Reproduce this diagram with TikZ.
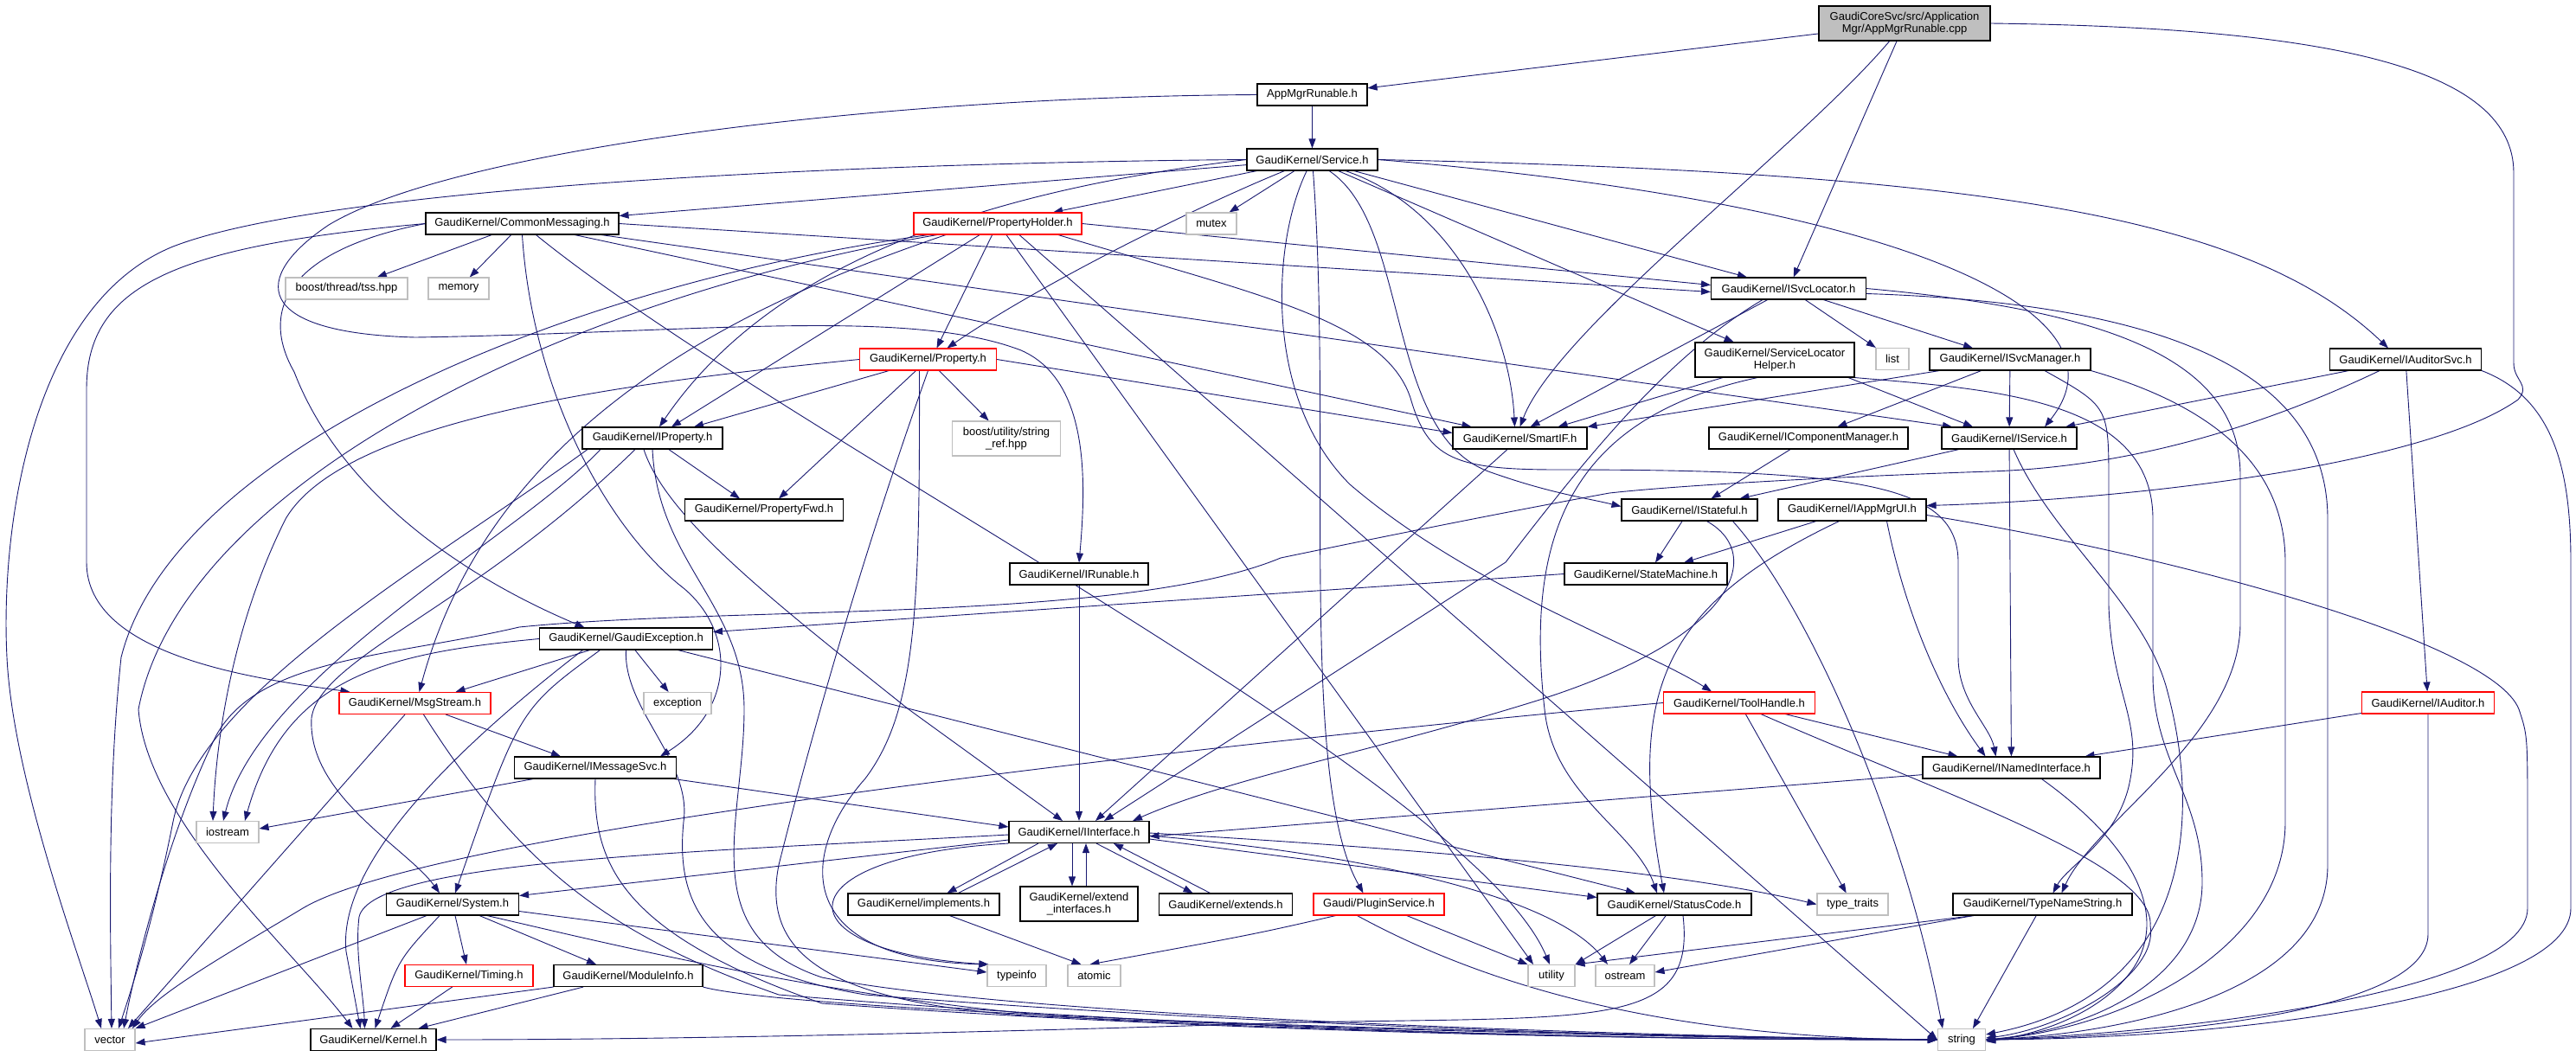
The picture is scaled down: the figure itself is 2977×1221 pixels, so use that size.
\documentclass[tikz,border=0pt]{standalone}
\usepackage{fontspec}
\setmainfont{Liberation Sans}
\usetikzlibrary{arrows.meta}
\definecolor{edgeblue}{HTML}{191970}
\definecolor{greyb}{HTML}{BFBFBF}
\pgfdeclarelayer{bg}
\pgfsetlayers{bg,main}
\tikzset{
 box/.style={draw=black,fill=white,line width=1.1pt,inner sep=0pt,minimum height=25pt,align=center,font=\fontsize{13}{14.5}\selectfont},
 gbox/.style={box,draw=greyb},
 rbox/.style={box,draw=red},
 edg/.style={draw=edgeblue,line width=0.9pt,-{Triangle[length=11pt,width=8pt]}},
}
\begin{document}
\begin{tikzpicture}[x=1pt,y=-1pt]
\useasboundingbox (0,0) rectangle (2977,1221);
% nodes
\node[box,fill=greyb,minimum width=198,minimum height=40] (top) at (2201,27) {GaudiCoreSvc/src/Application\\Mgr/AppMgrRunable.cpp};
\node[box,minimum width=127] (amr) at (1516.5,109.5) {AppMgrRunable.h};
\node[box,minimum width=151] (svc) at (1516.5,184.5) {GaudiKernel/Service.h};
\node[box,minimum width=223] (cm) at (603.5,258.5) {GaudiKernel/CommonMessaging.h};
\node[rbox,minimum width=194] (ph) at (1153,258.5) {GaudiKernel/PropertyHolder.h};
\node[gbox,minimum width=58] (mutex) at (1400,258.5) {mutex};
\node[gbox,minimum width=141] (tss) at (400.5,333.5) {boost/thread/tss.hpp};
\node[gbox,minimum width=70] (memory) at (530,333.5) {memory};
\node[box,minimum width=179] (isl) at (2067,333.5) {GaudiKernel/ISvcLocator.h};
\node[rbox,minimum width=158] (prop) at (1072.5,415.5) {GaudiKernel/Property.h};
\node[box,minimum width=184,minimum height=40] (slh) at (2051,416) {GaudiKernel/ServiceLocator\\Helper.h};
\node[gbox,minimum width=38] (list) at (2187,415) {list};
\node[box,minimum width=186] (ism) at (2323,415.5) {GaudiKernel/ISvcManager.h};
\node[box,minimum width=175] (ias) at (2780,415.5) {GaudiKernel/IAuditorSvc.h};
\node[box,minimum width=162] (iprop) at (754,506.5) {GaudiKernel/IProperty.h};
\node[gbox,minimum width=125,minimum height=40] (sref) at (1163,507) {boost/utility/string\\\_ref.hpp};
\node[box,minimum width=155] (smartif) at (1756.5,506.5) {GaudiKernel/SmartIF.h};
\node[box,minimum width=230] (icm) at (2090,506.5) {GaudiKernel/IComponentManager.h};
\node[box,minimum width=156] (isvc) at (2322,506.5) {GaudiKernel/IService.h};
\node[box,minimum width=183] (pfwd) at (883,589.5) {GaudiKernel/PropertyFwd.h};
\node[box,minimum width=157] (istf) at (1952.5,589.5) {GaudiKernel/IStateful.h};
\node[box,minimum width=171] (iamui) at (2140.5,589.5) {GaudiKernel/IAppMgrUI.h};
\node[box,minimum width=160] (irun) at (1247,663.5) {GaudiKernel/IRunable.h};
\node[box,minimum width=188] (sm) at (1902,663.5) {GaudiKernel/StateMachine.h};
\node[box,minimum width=200] (gex) at (723.5,738.5) {GaudiKernel/GaudiException.h};
\node[rbox,minimum width=175] (msg) at (479.5,813) {GaudiKernel/MsgStream.h};
\node[gbox,minimum width=78] (exc) at (783,813) {exception};
\node[rbox,minimum width=175] (th) at (2010,812.5) {GaudiKernel/ToolHandle.h};
\node[rbox,minimum width=153] (iaud) at (2806,812.5) {GaudiKernel/IAuditor.h};
\node[box,minimum width=187] (imsg) at (688,887.5) {GaudiKernel/IMessageSvc.h};
\node[box,minimum width=205] (inamed) at (2324.5,887.5) {GaudiKernel/INamedInterface.h};
\node[gbox,minimum width=72] (iostream) at (263,962) {iostream};
\node[box,minimum width=162] (iint) at (1247,962) {GaudiKernel/IInterface.h};
\node[box,minimum width=153] (sys) at (523,1045.5) {GaudiKernel/System.h};
\node[box,minimum width=175] (impl) at (1067.5,1045.5) {GaudiKernel/implements.h};
\node[box,minimum width=136,minimum height=40] (extif) at (1247,1045) {GaudiKernel/extend\\\_interfaces.h};
\node[box,minimum width=154] (ext) at (1416.5,1045.5) {GaudiKernel/extends.h};
\node[rbox,minimum width=151] (plug) at (1593.5,1045.5) {Gaudi/PluginService.h};
\node[box,minimum width=178] (sc) at (1935,1045.5) {GaudiKernel/StatusCode.h};
\node[gbox,minimum width=82] (tt) at (2141,1045.5) {type\_traits};
\node[box,minimum width=207] (tng) at (2360.5,1045.5) {GaudiKernel/TypeNameString.h};
\node[rbox,minimum width=148] (timing) at (542,1128) {GaudiKernel/Timing.h};
\node[box,minimum width=172] (modinfo) at (726,1128) {GaudiKernel/ModuleInfo.h};
\node[gbox,minimum width=68] (typeinfo) at (1175,1128) {typeinfo};
\node[gbox,minimum width=61] (atomic) at (1264.5,1128) {atomic};
\node[gbox,minimum width=54] (utility) at (1793,1128) {utility};
\node[gbox,minimum width=68] (ostream) at (1878,1128) {ostream};
\node[gbox,minimum width=58] (vector) at (127,1202) {vector};
\node[box,minimum width=145] (kernel) at (431.5,1202) {GaudiKernel/Kernel.h};
\node[gbox,minimum width=55] (string) at (2267,1202) {string};

\begin{pgfonlayer}{bg}
% top
\draw[edg] (top) -- (amr);
\draw[edg] (top) .. controls (2080,170) and (1800,380) .. (smartif.north);
\draw[edg] (top) -- (isl);
\draw[edg] (top.east) .. controls (2700,32) and (2905,80) .. (2905,200) -- (2905,420) .. controls (2905,440) and (2925,445) .. (2910,462) .. controls (2800,540) and (2450,578) .. ([yshift=5]iamui.east);
% amr
\draw[edg] (amr) -- (svc);
\draw[edg] (amr.west) .. controls (1000,112) and (520,175) .. (380,260) .. controls (290,320) and (290,385) .. (480,390) .. controls (800,385) and (1050,355) .. (1180,405) .. controls (1260,440) and (1255,560) .. (irun.north);
% svc
\draw[edg] (svc) -- (cm);
\draw[edg] (svc) -- (ph);
\draw[edg] (svc) -- (mutex);
\draw[edg] (svc) -- (isl);
\draw[edg] (svc) -- (slh);
\draw[edg] (svc.east) .. controls (2300,200) and (2600,250) .. ([xshift=-20]ias.north);
\draw[edg] (svc) .. controls (1380,240) and (1200,330) .. ([xshift=22]prop.north);
\draw[edg] (svc.west) .. controls (1100,225) and (880,320) .. ([xshift=8]iprop.north);
\draw[edg] (svc) .. controls (1680,240) and (1745,380) .. ([xshift=-6]smartif.north);
\draw[edg] (svc.east) .. controls (2200,235) and (2470,360) .. ([xshift=41]isvc.north);
\draw[edg] (svc) .. controls (1630,260) and (1600,500) .. (1720,545) .. controls (1790,570) and (1830,575) .. ([yshift=4]istf.west);
\draw[edg] (svc) .. controls (1470,280) and (1460,460) .. (1560,560) .. controls (1700,680) and (1900,750) .. ([xshift=-32]th.north);
\draw[edg] (svc) .. controls (1540,500) and (1500,900) .. ([xshift=-18]plug.north);
\draw[edg] (svc.west) .. controls (1000,188) and (380,215) .. (200,285) .. controls (40,350) and (0,600) .. (8,760) .. controls (15,900) and (90,1100) .. ([xshift=-10]vector.north);
% cm
\draw[edg] (cm) -- (tss);
\draw[edg] (cm) -- (memory);
\draw[edg] (cm.east) -- ([yshift=-4]isl.west);
\draw[edg] (cm) -- ([xshift=-66]isvc.north);
\draw[edg] (cm) -- ([xshift=-56]smartif.north);
\draw[edg] (cm.west) .. controls (200,285) and (100,330) .. (100,450) -- (100,650) .. controls (100,760) and (300,785) .. ([xshift=-75]msg.north);
\draw[edg] (cm.west) .. controls (330,290) and (300,360) .. (340,430) .. controls (390,560) and (520,660) .. ([xshift=-48]gex.north);
\draw[edg] (cm.south) .. controls (615,450) and (700,610) .. (790,680) .. controls (850,730) and (850,820) .. ([xshift=75]imsg.north);
\draw[edg] (cm) .. controls (900,500) and (1700,900) .. ([xshift=-2]utility.north);
% ph
\draw[edg] (ph.east) -- ([yshift=4]isl.west);
\draw[edg] (ph) -- ([xshift=10]prop.north);
\draw[edg] (ph) -- ([xshift=22]iprop.north);
\draw[edg] ([xshift=-60]ph.south) .. controls (800,370) and (560,520) .. ([xshift=5]msg.north);
\draw[edg] ([xshift=-80]ph.south) .. controls (650,330) and (200,520) .. (140,760) .. controls (125,900) and (127,1050) .. ([xshift=2]vector.north);
\draw[edg] ([xshift=-70]ph.south) .. controls (650,345) and (210,560) .. (160,820) .. controls (170,950) and (340,1100) .. ([xshift=-24]kernel.north);
\draw[edg] ([xshift=10]ph.south) -- ([xshift=-21]utility.north);
\draw[edg] ([xshift=25]ph.south) -- (string.west);
\draw[edg] ([xshift=70]ph.south) .. controls (1450,340) and (1600,370) .. (1630,460) .. controls (1650,530) and (1680,543) .. (1800,543) .. controls (2150,543) and (2263,560) .. (2263,650) -- (2263,760) .. controls (2263,810) and (2300,840) .. ([xshift=-18]inamed.north);
% prop
\draw[edg] (prop) -- ([xshift=48]iprop.north);
\draw[edg] (prop) -- ([xshift=17]pfwd.north);
\draw[edg] (prop) -- (sref);
\draw[edg] (prop.east) -- ([yshift=6]smartif.west);
\draw[edg] ([xshift=-10]prop.south) .. controls (1063,700) and (1060,820) .. (1000,900) .. controls (920,990) and (920,1110) .. ([xshift=2]typeinfo.north west);
\draw[edg] (prop.west) .. controls (750,440) and (400,480) .. (330,600) .. controls (270,720) and (250,850) .. ([xshift=-17]iostream.north);
\draw[edg] (prop.south) .. controls (990,660) and (930,880) .. (900,1000) .. controls (880,1100) and (950,1160) .. (1200,1175) .. controls (1700,1195) and (2000,1200) .. (string.west);
% slh
\draw[edg] ([xshift=-60]slh.south) -- ([xshift=44]smartif.north);
\draw[edg] ([xshift=85]slh.south) -- ([xshift=-42]isvc.north);
\draw[edg] ([xshift=-20]slh.south) .. controls (1830,480) and (1760,600) .. (1785,820) .. controls (1795,920) and (1890,960) .. ([xshift=-20]sc.north);
\draw[edg] (slh.south east) .. controls (2300,450) and (2488,460) .. (2488,600) -- (2488,780) .. controls (2488,880) and (2545,920) .. (2545,1020) .. controls (2545,1130) and (2420,1190) .. (string.east);
% isl
\draw[edg] (isl) -- (list);
\draw[edg] (isl) -- ([xshift=-43]ism.north);
\draw[edg] (isl) -- ([xshift=12]smartif.north);
\draw[edg] ([xshift=-30]isl.south) .. controls (1930,410) and (1840,520) .. (1740,650) -- ([xshift=29]iint.north);
\draw[edg] (isl.east) .. controls (2450,360) and (2589,420) .. (2589,550) -- (2589,720) .. controls (2589,850) and (2420,950) .. ([xshift=22]tng.north);
\draw[edg] ([yshift=-6]isl.east) .. controls (2480,350) and (2690,420) .. (2690,600) -- (2690,1000) .. controls (2690,1150) and (2450,1195) .. (string.east);
% ism
\draw[edg] (ism) -- (icm);
\draw[edg] (ism) -- (isvc);
\draw[edg] (ism) -- (smartif.north east);
\draw[edg] ([xshift=40]ism.south) .. controls (2437,470) .. (2437,560) -- (2437,700) .. controls (2440,800) and (2475,830) .. (2462,900) .. controls (2450,970) and (2390,1000) .. ([xshift=12]tng.north);
\draw[edg] (ism.south east) .. controls (2560,470) and (2641,540) .. (2641,650) -- (2641,950) .. controls (2641,1100) and (2450,1190) .. (string.east);
% ias
\draw[edg] (ias) -- ([xshift=65]isvc.north);
\draw[edg] (ias) -- (iaud);
\draw[edg] ([xshift=-30]ias.south) .. controls (2600,500) and (2450,540) .. (2300,545) .. controls (2150,550) and (1950,560) .. (1860,570) .. controls (1750,590) and (1600,620) .. (1480,645) .. controls (1300,720) and (850,700) .. (600,725) .. controls (450,760) and (300,760) .. (250,850) .. controls (200,950) and (160,1100) .. ([xshift=16]vector.north);
\draw[edg] (ias.south east) .. controls (2950,460) and (2971,540) .. (2971,650) -- (2971,1050) .. controls (2971,1150) and (2600,1200) .. (string.east);
% iprop
\draw[edg] (iprop) -- ([xshift=-28]pfwd.north);
\draw[edg] ([xshift=-10]iprop.south) .. controls (770,600) and (900,700) .. (1050,820) -- ([xshift=-19]iint.north);
\draw[edg] ([xshift=-20]iprop.south) .. controls (550,700) and (370,760) .. (360,830) .. controls (355,920) and (470,980) .. ([xshift=-15]sys.north);
\draw[edg] ([xshift=-60]iprop.south) .. controls (600,620) and (300,780) .. ([xshift=-5]iostream.north);
\draw[edg] ([xshift=-75]iprop.south) .. controls (500,650) and (230,800) .. (200,950) .. controls (180,1050) and (160,1120) .. ([xshift=10]vector.north);
\draw[edg] (iprop.south) .. controls (760,650) and (860,700) .. (860,820) .. controls (860,950) and (800,1080) .. (950,1130) .. controls (1200,1180) and (2000,1200) .. (string.west);
% gex
\draw[edg] (gex) -- ([xshift=47]msg.north);
\draw[edg] (gex) -- (exc);
\draw[edg] ([xshift=-30]gex.south) .. controls (600,820) .. ([xshift=3]sys.north);
\draw[edg] ([xshift=-50]gex.south) .. controls (520,870) and (390,1000) .. (400,1100) -- ([xshift=-15]kernel.north);
\draw[edg] (gex.west) .. controls (450,755) and (330,780) .. ([xshift=20]iostream.north);
\draw[edg] ([xshift=60]gex.south) -- ([xshift=-45]sc.north);
\draw[edg] (gex.south) .. controls (720,820) and (800,880) .. (790,950) .. controls (780,1050) and (820,1120) .. (1000,1150) .. controls (1500,1190) and (2050,1202) .. (string.west);
% msg
\draw[edg] (msg) -- ([xshift=-40]imsg.north);
\draw[edg] (msg) -- ([xshift=21]vector.north);
\draw[edg] ([xshift=10]msg.south) .. controls (600,1000) and (700,1080) .. (900,1150) .. controls (1500,1200) and (2050,1202) .. (string.west);
% imsg
\draw[edg] (imsg) -- ([yshift=6]iint.west);
\draw[edg] (imsg) -- ([yshift=4]iostream.east);
\draw[edg] (imsg.south) .. controls (684,1000) and (720,1080) .. (950,1160) .. controls (1500,1200) and (2050,1202) .. (string.west);
% sm
\draw[edg] (sm.west) -- ([yshift=8]gex.east);
% istf
\draw[edg] (istf) -- ([xshift=11]sm.north);
\draw[edg] ([xshift=20]istf.south) .. controls (2040,640) and (2010,740) .. (1760,815) .. controls (1580,870) and (1420,900) .. ([xshift=62]iint.north);
\draw[edg] ([xshift=50]istf.south) .. controls (2090,700) and (2200,950) .. ([xshift=-22]string.north);
% iamui
\draw[edg] (iamui) -- ([xshift=44]sm.north);
\draw[edg] ([xshift=40]iamui.south) .. controls (2200,700) and (2240,800) .. ([xshift=-30]inamed.north);
\draw[edg] ([xshift=-15]iamui.south) .. controls (1920,700) and (1880,800) .. ([xshift=-12]sc.north);
\draw[edg] ([yshift=-6]iamui.east) .. controls (2500,640) and (2880,740) .. (2911,820) .. controls (2921,850) .. (2921,950) -- (2921,1050) .. controls (2921,1150) and (2500,1195) .. (string.east);
% isvc
\draw[edg] (isvc) -- (inamed);
\draw[edg] (isvc) -- ([xshift=58]istf.north);
\draw[edg] ([xshift=5]isvc.south) .. controls (2370,620) and (2480,700) .. (2505,800) .. controls (2545,950) and (2530,1150) .. ([yshift=6]string.east);
% iaud
\draw[edg] (iaud) -- ([xshift=85]inamed.north);
\draw[edg] (iaud.south) -- (2806,1080) .. controls (2806,1170) and (2500,1198) .. (string.east);
% th
\draw[edg] (th) -- ([xshift=-62]inamed.north);
\draw[edg] (th.west) .. controls (1400,860) and (500,960) .. (350,1050) .. controls (250,1110) and (180,1150) .. ([xshift=26]vector.north);
\draw[edg] (th) -- (tt);
\draw[edg] ([xshift=25]th.south) .. controls (2250,920) and (2490,1000) .. (2485,1070) .. controls (2495,1130) and (2380,1190) .. ([yshift=2]string.east);
% inamed
\draw[edg] (inamed) -- ([yshift=-5]iint.east);
\draw[edg] ([xshift=35]inamed.south) .. controls (2470,980) and (2505,1060) .. (2465,1120) .. controls (2430,1170) and (2360,1195) .. ([yshift=-2]string.east);
% tng
\draw[edg] ([xshift=-80]tng.south) -- (utility.north east);
\draw[edg] ([xshift=-80]tng.south) -- ([yshift=4]ostream.east);
\draw[edg] (tng) -- ([xshift=13]string.north);
% smartif, icm, irun
\draw[edg] (smartif) -- ([xshift=19]iint.north);
\draw[edg] (icm) -- ([xshift=25]istf.north);
\draw[edg] (irun) -- (iint);
% iint pairs
\draw[edg] ([xshift=-47]iint.south) -- ([xshift=27]impl.north);
\draw[edg] ([xshift=40]impl.north) -- ([xshift=-25]iint.south);
\draw[edg] ([xshift=-8]iint.south) -- ([xshift=-8]extif.north);
\draw[edg] ([xshift=8]extif.north) -- ([xshift=8]iint.south);
\draw[edg] ([xshift=20]iint.south) -- ([xshift=-38]ext.north);
\draw[edg] ([xshift=-18]ext.north) -- ([xshift=40]iint.south);
% iint others
\draw[edg] ([yshift=-9]iint.west) -- ([yshift=10]sys.east);
\draw[edg] ([yshift=-3]iint.west) .. controls (800,985) and (430,995) .. (415,1060) .. controls (410,1100) and (420,1150) .. ([xshift=-10]kernel.north);
\draw[edg] (iint.south west) .. controls (900,990) and (900,1100) .. ([xshift=2]typeinfo.north west);
\draw[edg] ([yshift=-8]iint.east) -- ([yshift=8]sc.west);
\draw[edg] ([yshift=-1]iint.east) .. controls (1700,985) and (1950,1010) .. (tt.west);
\draw[edg] ([yshift=-4]iint.east) .. controls (1600,990) and (1800,1040) .. ([xshift=-20]ostream.north);
% impl
\draw[edg] ([xshift=30]impl.south) -- ([xshift=-15]atomic.north);
% plug
\draw[edg] ([xshift=-50]plug.south) .. controls (1450,1080) .. ([xshift=-5]atomic.north);
\draw[edg] (plug) -- (utility.north west);
\draw[edg] ([xshift=-25]plug.south) .. controls (1700,1130) and (1900,1200) .. (string.west);
% sc
\draw[edg] (sc) -- (utility.north east);
\draw[edg] (sc) -- ([xshift=5]ostream.north);
\draw[edg] ([xshift=10]sc.south) .. controls (1960,1190) and (1850,1175) .. (1500,1182) .. controls (1000,1198) and (700,1202) .. (kernel.east);
% sys
\draw[edg] ([xshift=-30]sys.south) -- (vector.north east);
\draw[edg] ([xshift=-15]sys.south) .. controls (460,1110) .. ([xshift=2]kernel.north);
\draw[edg] (sys) -- (timing);
\draw[edg] (sys) -- ([xshift=-37]modinfo.north);
\draw[edg] ([yshift=-8]sys.east) -- ([yshift=4]typeinfo.west);
\draw[edg] ([xshift=40]sys.south) .. controls (700,1090) and (1000,1165) .. (1300,1180) .. controls (1700,1198) and (2000,1202) .. (string.west);
% timing, modinfo
\draw[edg] (timing) -- ([xshift=20]kernel.north);
\draw[edg] (modinfo) -- ([xshift=52]kernel.north);
\draw[edg] (modinfo.south west) -- ([yshift=-4]vector.east);
\draw[edg] (modinfo.south east) .. controls (900,1165) and (1500,1192) .. (string.west);
\end{pgfonlayer}
\end{tikzpicture}
\end{document}
